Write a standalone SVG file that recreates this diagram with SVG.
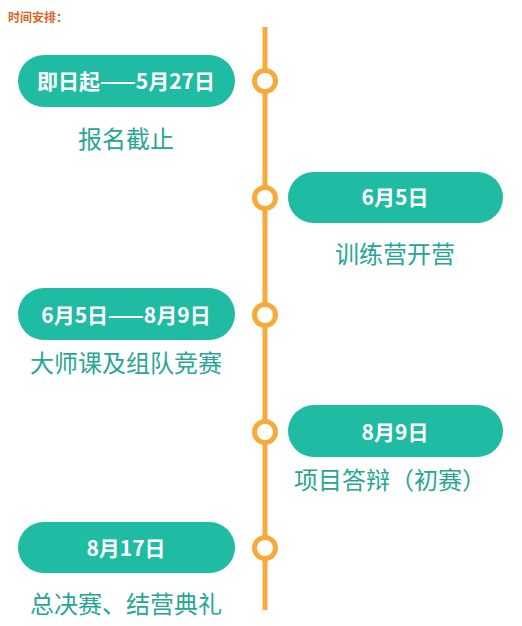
<svg xmlns="http://www.w3.org/2000/svg" width="522" height="626" viewBox="0 0 522 626">
<style>
.pill{fill:#1FBBA3}
.pt{font-family:"Noto Sans CJK SC",sans-serif;font-size:21px;font-weight:bold;fill:#ffffff;text-anchor:middle;dominant-baseline:central}
.lb{font-family:"Noto Sans CJK SC",sans-serif;font-size:24px;fill:#27A693;text-anchor:middle;dominant-baseline:central}
.dot{fill:#ffffff;stroke:#F6AA3A;stroke-width:5}
</style>
<rect width="522" height="626" fill="#ffffff"/>
<text x="8" y="16" font-family="'Noto Sans CJK SC',sans-serif" font-size="12" font-weight="bold" fill="#D9661F" dominant-baseline="central">时间安排：</text>
<g id="connectors">
<line x1="265" y1="27" x2="265" y2="610" stroke="#F6AA3A" stroke-width="5"/>
</g>
<g id="n1">
<rect class="pill" x="18" y="55" width="217" height="52" rx="26"/>
<text class="pt" x="126" y="80">即日起——5月27日</text>
<text class="lb" x="126" y="137">报名截止</text>
<circle class="dot" cx="265" cy="81" r="10.5"/>
</g>
<g id="n2">
<rect class="pill" x="288" y="172" width="215" height="51" rx="25.5"/>
<text class="pt" x="395" y="196">6月5日</text>
<text class="lb" x="395" y="252">训练营开营</text>
<circle class="dot" cx="265" cy="198" r="10.5"/>
</g>
<g id="n3">
<rect class="pill" x="18" y="288" width="217" height="52" rx="26"/>
<text class="pt" x="126" y="314">6月5日——8月9日</text>
<text class="lb" x="126" y="361">大师课及组队竞赛</text>
<circle class="dot" cx="265" cy="315" r="10.5"/>
</g>
<g id="n4">
<rect class="pill" x="288" y="405" width="215" height="52" rx="26"/>
<text class="pt" x="395" y="431">8月9日</text>
<text class="lb" x="390" y="478">项目答辩（初赛）</text>
<circle class="dot" cx="265" cy="432" r="10.5"/>
</g>
<g id="n5">
<rect class="pill" x="18" y="522" width="217" height="51" rx="25.5"/>
<text class="pt" x="126" y="547">8月17日</text>
<text class="lb" x="126" y="602">总决赛、结营典礼</text>
<circle class="dot" cx="265" cy="548" r="10.5"/>
</g>
</svg>
